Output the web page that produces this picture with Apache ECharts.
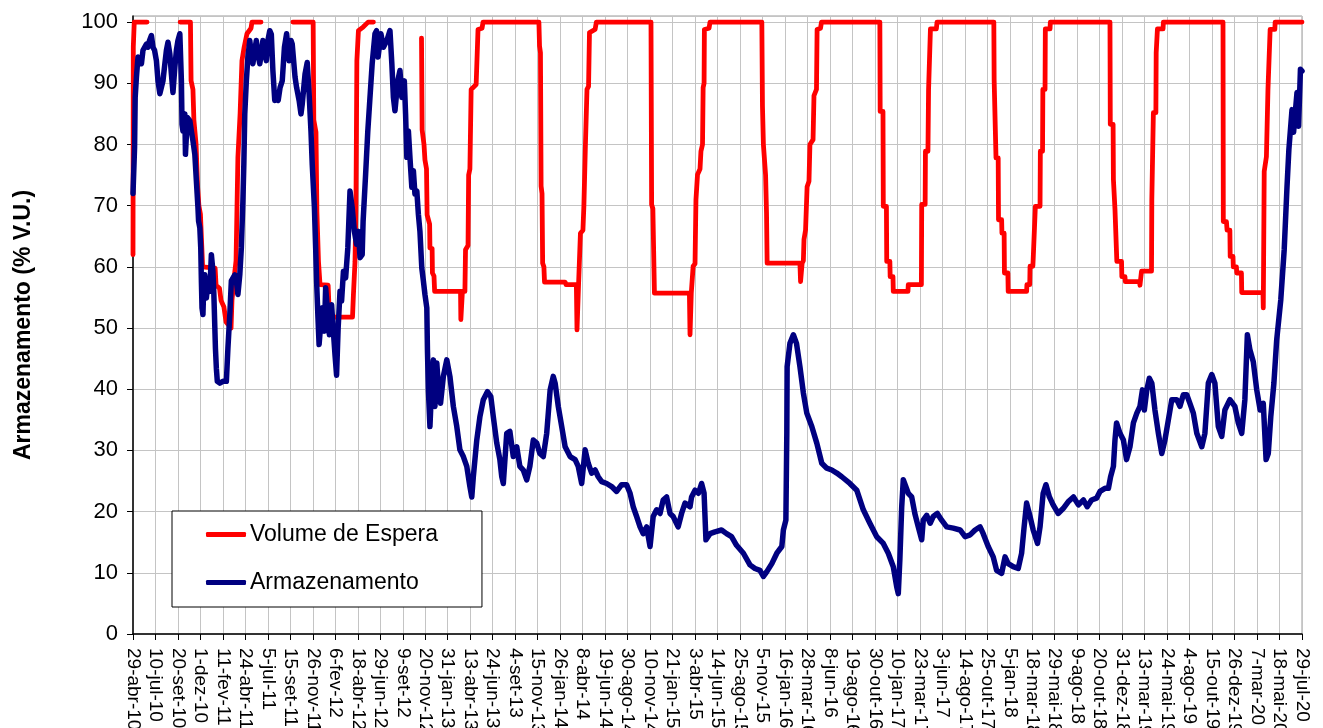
<!DOCTYPE html>
<html><head><meta charset="utf-8">
<script src="https://cdn.jsdelivr.net/npm/echarts@6/dist/echarts.min.js"></script>
<style>html,body{margin:0;padding:0;background:#fff}#c{width:1323px;height:728px}</style>
</head><body><div id="c"></div>
<script>
// x = days since 29-abr-10; ticks every 72 days
const tickLabels = ['29-abr-10','10-jul-10','20-set-10','1-dez-10','11-fev-11','24-abr-11','5-jul-11','15-set-11','26-nov-11','6-fev-12','18-abr-12','29-jun-12','9-set-12','20-nov-12','31-jan-13','13-abr-13','24-jun-13','4-set-13','15-nov-13','26-jan-14','8-abr-14','19-jun-14','30-ago-14','10-nov-14','21-jan-15','3-abr-15','14-jun-15','25-ago-15','5-nov-15','16-jan-16','28-mar-16','8-jun-16','19-ago-16','30-out-16','10-jan-17','23-mar-17','3-jun-17','14-ago-17','25-out-17','5-jan-18','18-mar-18','29-mai-18','9-ago-18','20-out-18','31-dez-18','13-mar-19','24-mai-19','4-ago-19','15-out-19','26-dez-19','7-mar-20','18-mai-20','29-jul-20'];

const volumeEspera = [
[0,62],[1,96],[4,100],[45,100],[46,null],
[151,100],[184,100],[186,90.4],[192,89],[195,84],[202,80],[207,73],[211,70],[216,68.6],[223,60],[263,59.8],[266,57],[277,56.5],[282,54.5],[291,53.5],[298,51],[314,50],[317,54.6],[325,58.7],[330,61],[336,77.9],[343,85],[349,93.7],[356,95.9],[365,98.1],[378,99],[381,100],[410,100],[411,null],
[512,100],[577,100],[579,84],[586,82],[589,69],[594,60.9],[599,57.1],[625,57],[629,51.8],[703,51.8],[706,55.5],[711,60.8],[714,69.7],[717,93.7],[722,98.6],[737,99.2],[753,100],[770,100],[771,null],
[924,97.4],[926,82.4],[932,80],[935,77.5],[940,76],[942,68.5],[950,67],[951,63.1],[958,63],[959,59],[964,58.5],[966,56],[1049,56],[1050,51.4],[1054,51.4],[1055,56],[1063,56],[1065,62.8],[1073,63.5],[1075,75],[1079,76],[1083,89],[1099,89.8],[1105,98.8],[1118,99],[1121,100],
[1300,100],[1302,96.1],[1305,95],[1307,73.2],[1310,72],[1312,60.6],[1316,60],[1318,57.5],[1384,57.5],[1387,57.1],[1420,57.1],[1422,49.7],[1425,49.7],[1427,57.1],[1432,57.1],[1433,65.5],[1441,66],[1444,69.9],[1449,80],[1454,89],[1459,89.5],[1462,98.3],[1480,98.8],[1484,100],
[1659,100],[1661,70.2],[1665,69.5],[1670,55.7],[1782,55.7],[1784,48.9],[1786,48.9],[1788,55.7],[1790,56],[1794,60.1],[1800,60.5],[1803,71],[1808,75.1],[1816,76],[1819,78.9],[1824,80],[1826,89.3],[1829,90],[1830,98.8],[1845,99],[1848,100],
[2014,100],[2016,86.3],[2019,80],[2026,75],[2029,68.8],[2031,60.6],[2136,60.6],[2138,57.6],[2141,57.6],[2143,60.6],[2147,61],[2149,64.5],[2154,66],[2159,73.1],[2165,74],[2168,80],[2178,80.8],[2181,88],[2189,89],[2191,98.8],[2202,99],[2205,100],
[2392,100],[2393,85.4],[2402,85.4],[2403,69.9],[2413,69.9],[2414,60.9],[2424,60.9],[2425,58.4],[2434,58.4],[2435,56],[2482,56],[2483,57.1],[2525,57.1],[2526,70.2],[2537,70.2],[2538,78.9],[2546,78.9],[2548,89],[2553,89],[2554,98.9],[2573,98.9],[2575,100],
[2757,100],[2758,90.6],[2763,90.6],[2764,77.8],[2771,77.8],[2772,67.7],[2782,67.7],[2783,65.5],[2790,65.5],[2791,59],[2802,59],[2803,56],[2862,56],[2863,57.1],[2872,57.1],[2873,60.1],[2882,60.1],[2883,61.2],[2889,61.2],[2890,69.9],[2905,69.9],[2906,78.9],[2913,78.9],[2914,89],[2921,89],[2922,98.9],[2937,98.9],[2938,100],
[3129,100],[3130,83.3],[3139,83.3],[3140,74.3],[3144,74.3],[3145,69.4],[3150,69.4],[3151,60.9],[3166,60.9],[3167,58.4],[3177,58.4],[3178,57.6],[3224,57.6],[3225,57],[3228,57],[3230,59.3],[3262,59.3],[3263,71],[3267,71],[3268,85.2],[3276,85.2],[3277,95],[3280,95],[3281,98.9],[3299,98.9],[3300,100],
[3491,100],[3492,67.4],[3502,67.4],[3504,66],[3513,66],[3514,61.7],[3523,61.7],[3524,60],[3534,60],[3535,59],[3550,59],[3551,55.8],[3619,55.8],[3620,53.3],[3622,53.3],[3623,75.6],[3629,75.6],[3630,78],[3633,78],[3635,89],[3641,89],[3642,98.8],[3657,98.8],[3658,100],[3744,100]
];

const armazenamento = [
[0,72],[5,79.5],[7,87.7],[11,91],[16,94.3],[21,94.5],[27,93.2],[32,95.4],[43,96.4],[48,95.9],[53,97],[59,97.8],[64,95.9],[69,95.4],[75,93.7],[80,90.4],[86,88.3],[91,88.3],[96,90.4],[102,93.2],[107,95.4],[112,96.7],[118,94.8],[123,91.5],[128,88.5],[134,92.6],[139,95.4],[144,97],[150,98.1],[155,90.4],[157,83.3],[160,82.2],[166,85],[168,78.4],[174,84.4],[182,83.9],[187,82.2],[192,80.6],[198,78.4],[203,74],[208,69.7],[210,67.5],[214,66.4],[217,63.1],[219,57.7],[221,53.3],[224,52.2],[227,57.7],[230,58.7],[235,54.9],[240,57.7],[246,56],[251,62],[256,59.3],[259,55.5],[264,46.7],[267,43.4],[270,41.3],[278,41],[288,41.3],[299,41.3],[304,46.7],[310,52.2],[315,57.7],[320,58],[326,58.7],[331,57.7],[336,55.5],[342,58.7],[347,63.1],[352,70.8],[355,76.8],[358,85],[363,90.4],[368,94.3],[374,97],[379,94.8],[384,93.2],[390,95.4],[395,97],[400,94.8],[406,93.2],[411,94.8],[416,97],[422,94.8],[427,93.7],[432,97],[438,98.6],[443,98],[448,92.1],[454,87.2],[459,87.7],[465,87.2],[471,89.3],[478,90.4],[485,95.9],[492,98.1],[500,93.7],[506,97],[510,96.4],[519,91],[524,89.3],[532,87.2],[538,85],[542,86.6],[551,91.5],[558,93.4],[564,88.3],[570,82.2],[574,76.8],[581,69.7],[585,63.1],[588,57.7],[592,52.2],[596,47.3],[602,51.1],[606,53.3],[613,49.5],[617,56.6],[624,52.2],[629,48.9],[636,53.8],[641,50],[647,45.6],[652,42.3],[657,50],[663,56],[668,54.4],[674,59.3],[681,58.2],[688,63.1],[695,72.4],[702,69.7],[709,65.8],[716,63.7],[722,65.8],[727,61.5],[734,62],[737,67.5],[745,75.1],[752,82.2],[759,87.7],[766,93.2],[775,98.1],[780,98.6],[785,94.3],[794,98.1],[802,95.9],[813,97],[823,98.6],[829,93.2],[834,87.7],[839,85.5],[848,90.4],[855,92.1],[861,87.7],[869,90.4],[873,85],[877,77.9],[882,82.2],[887,77.9],[893,73],[898,75.7],[903,71.9],[909,72.4],[914,68.6],[919,65.8],[925,59.8],[930,57.7],[935,55.5],[941,53.3],[943,46.5],[946,39.9],[951,33.9],[957,41],[962,44.8],[967,37.2],[973,44.3],[978,40.5],[985,37.7],[994,42.1],[1005,44.8],[1015,42.1],[1026,37.2],[1037,33.9],[1047,30.1],[1058,29],[1069,27.4],[1079,24.1],[1085,22.4],[1090,25.7],[1101,31.7],[1111,35.5],[1122,38.3],[1135,39.6],[1146,38.8],[1154,35.5],[1165,31.2],[1175,28.5],[1181,25.7],[1186,24.6],[1197,32.8],[1207,33.1],[1218,29],[1229,30.6],[1239,27.4],[1250,26.8],[1261,25.2],[1271,27.4],[1282,31.7],[1293,31.2],[1303,29.5],[1314,29],[1325,32.8],[1336,39.9],[1346,42.1],[1352,41],[1362,37.2],[1373,33.9],[1384,30.6],[1400,29],[1416,28.5],[1426,27.4],[1437,24.6],[1448,30.1],[1458,27.9],[1469,26.3],[1480,26.8],[1490,25.7],[1501,24.9],[1517,24.6],[1533,24.1],[1549,23.3],[1565,24.4],[1581,24.4],[1592,23],[1602,20.8],[1613,19.2],[1624,17.5],[1634,16.4],[1645,17.5],[1656,14.3],[1666,19.2],[1677,20.3],[1688,19.7],[1698,21.9],[1709,22.4],[1720,19.7],[1730,19.2],[1746,17.5],[1757,19.7],[1768,21.4],[1784,20.8],[1789,22.4],[1800,23.5],[1811,23],[1821,24.6],[1829,23],[1835,15.4],[1848,16.4],[1864,16.7],[1885,17],[1901,16.4],[1917,15.9],[1933,14.5],[1955,13.2],[1976,11.3],[1992,10.7],[2008,10.4],[2019,9.4],[2030,10.2],[2046,11.5],[2062,13.2],[2078,14.3],[2083,17],[2091,18.6],[2094,32.8],[2095,43.7],[2104,47.5],[2115,48.9],[2125,47.5],[2136,43.7],[2147,39.4],[2158,36.1],[2174,33.9],[2190,31.2],[2206,27.9],[2222,27.1],[2238,26.8],[2254,26.3],[2270,25.7],[2296,24.6],[2318,23.5],[2339,20.3],[2360,18.1],[2382,15.9],[2403,14.8],[2419,13.2],[2435,11],[2446,7.7],[2451,6.6],[2456,12.1],[2462,20.8],[2467,25.2],[2472,25.2],[2483,23],[2494,22.4],[2504,19.7],[2515,17.5],[2526,15.4],[2531,18.6],[2542,19.4],[2553,18.1],[2563,19.2],[2576,19.7],[2590,18.6],[2606,17.5],[2627,17.3],[2649,17],[2665,15.9],[2681,16.2],[2697,17],[2713,17.5],[2723,16.4],[2739,14.3],[2755,12.6],[2766,10.4],[2782,9.9],[2793,12.6],[2803,11.5],[2819,11],[2835,10.7],[2846,13.2],[2854,17.5],[2862,21.4],[2873,19.2],[2883,17],[2897,14.8],[2905,17.5],[2915,23],[2924,24.4],[2935,22.4],[2947,21.1],[2963,19.7],[2979,20.5],[2995,21.6],[3012,22.4],[3028,21.1],[3044,21.9],[3056,20.8],[3070,21.9],[3086,22.2],[3097,23.3],[3113,23.8],[3124,23.8],[3131,25.7],[3140,27.4],[3145,31.7],[3150,34.5],[3161,32.8],[3172,31.7],[3182,28.5],[3193,30.6],[3204,34.5],[3215,36.1],[3225,37.2],[3233,39.9],[3239,36.6],[3247,39.9],[3255,41.8],[3263,41],[3273,36.6],[3284,32.8],[3295,29.5],[3305,31.7],[3316,35],[3327,38.3],[3343,38.3],[3353,37.2],[3364,39.1],[3375,39.1],[3385,37.7],[3396,36.1],[3407,32.8],[3423,30.6],[3433,32.8],[3444,41],[3455,42.4],[3465,41],[3476,33.9],[3487,32.3],[3497,36.6],[3513,38.3],[3529,37.2],[3540,34.5],[3551,32.8],[3561,38.3],[3569,48.9],[3577,46.5],[3588,44.5],[3599,39.9],[3610,36.6],[3620,37.7],[3629,28.5],[3636,29.5],[3644,35.5],[3654,41],[3663,48.1],[3676,54.6],[3687,62.8],[3696,73.1],[3702,79.2],[3712,85.7],[3717,82],[3728,88.5],[3733,83],[3739,92.3],[3744,92]
];

const FONT = '"Liberation Sans", Arial, sans-serif';
const toSeries = arr => arr.map(p => [p[0], p[1] === null ? '-' : p[1]]);
const chart = echarts.init(document.getElementById('c'), null, {renderer: 'canvas'});
chart.setOption({
  animation: false,
  backgroundColor: '#fff',
  textStyle: {fontFamily: FONT},
  grid: {left: 133, right: 21, top: 16, bottom: 94, containLabel: false, outerBoundsMode: 'none',
         show: true, borderColor: '#9a9a9a', borderWidth: 1},
  legend: {
    orient: 'vertical', left: 172, top: 511,
    padding: [12, 44, 13, 34], itemGap: 25,
    itemWidth: 40, itemHeight: 5, icon: 'roundRect',
    borderColor: '#000', borderWidth: 1, backgroundColor: '#fff',
    textStyle: {fontSize: 23, color: '#000', fontFamily: FONT, padding: [0, 0, 0, -1]},
    data: ['Volume de Espera', 'Armazenamento']
  },
  xAxis: {
    type: 'value', min: 0, max: 3744, interval: 72,
    axisLine: {show: true, lineStyle: {color: '#000', width: 1.5}},
    axisTick: {show: true, length: 6, lineStyle: {color: '#000'}},
    splitLine: {show: true, lineStyle: {color: '#c4c4c4', width: 1}},
    axisLabel: {
      rotate: -90, margin: 14, fontSize: 19, color: '#000', fontFamily: FONT,
      formatter: v => tickLabels[Math.round(v / 72)] || ''
    }
  },
  yAxis: {
    type: 'value', min: 0, max: 101, interval: 10,
    name: 'Armazenamento (% V.U.)', nameLocation: 'middle', nameGap: 98,
    nameTextStyle: {fontSize: 23, fontWeight: 'bold', color: '#000', fontFamily: FONT},
    axisLine: {show: true, lineStyle: {color: '#000', width: 1.5}},
    axisTick: {show: true, length: 6, lineStyle: {color: '#000'}},
    splitLine: {show: true, lineStyle: {color: '#c4c4c4', width: 1}},
    axisLabel: {margin: 15, fontSize: 22, color: '#000', fontFamily: FONT, showMaxLabel: false}
  },
  series: [
    {name: 'Volume de Espera', type: 'line', data: toSeries(volumeEspera), symbol: 'none', connectNulls: false,
     color: '#ff0000', lineStyle: {color: '#ff0000', width: 4.8, cap: 'round', join: 'round'}, z: 2},
    {name: 'Armazenamento', type: 'line', data: toSeries(armazenamento), symbol: 'none',
     color: '#000080', lineStyle: {color: '#000080', width: 5.5, cap: 'round', join: 'round'}, z: 3}
  ]
});
</script></body></html>
